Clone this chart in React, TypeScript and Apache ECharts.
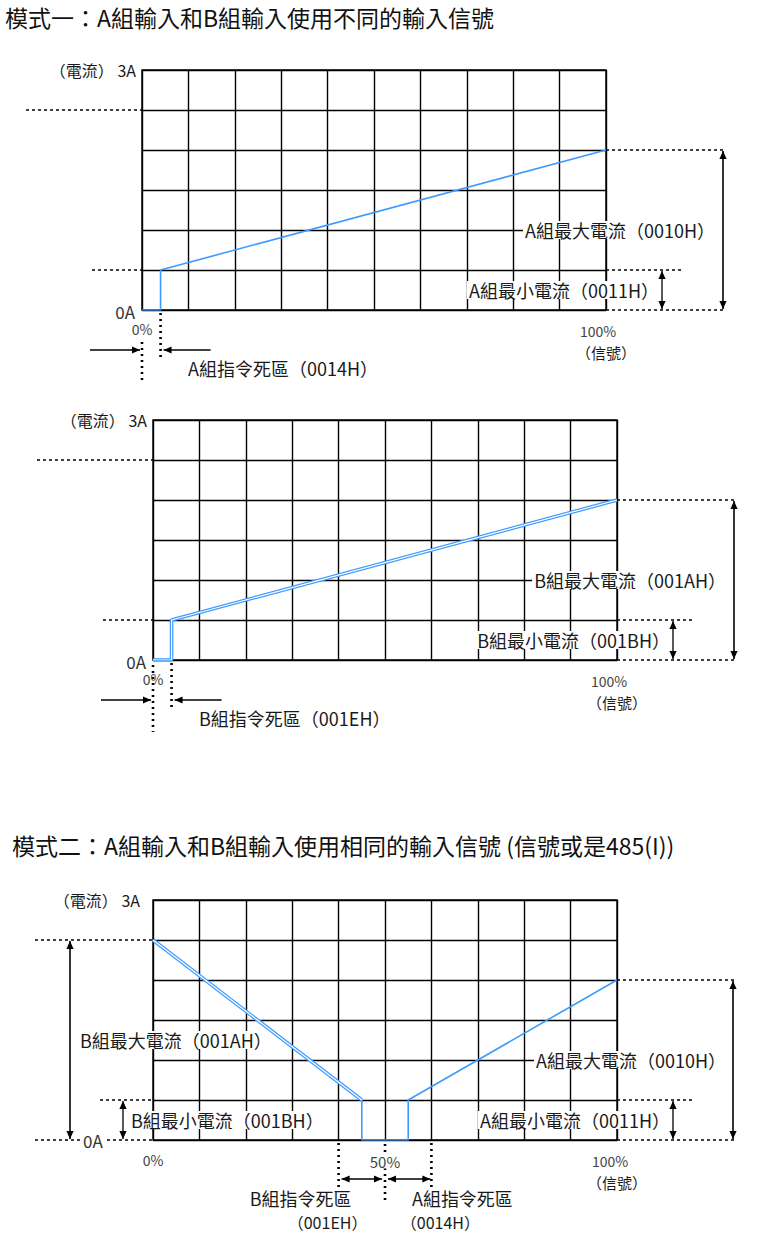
import React, { useEffect, useRef } from "react";
import * as echarts from "echarts";

const W = 760;
const H = 1236;
const FONT = '"Noto Sans CJK TC", "Noto Sans", sans-serif';
const BLUE = "#3d9bff";

// ---------- data ----------
const signalMin = 0;
const signalMax = 100;
const signalStep = 10;
const currentMin = 0;
const currentMax = 3;
const currentStep = 0.5;

// mode 1, group A
const m1aSignal = [0, 4, 4, 100];
const m1aCurrent = [0, 0, 0.5, 2];
// mode 1, group B
const m1bSignal = [0, 4, 4, 100];
const m1bCurrent = [0, 0, 0.5, 2];
// mode 2, group B (falling) and group A (rising)
const m2bSignal = [0, 45, 45, 50];
const m2bCurrent = [2.5, 0.5, 0, 0];
const m2aSignal = [50, 55, 55, 100];
const m2aCurrent = [0, 0, 0.5, 2];
// mode 2 dead-zone markers (signal %)
const m2DeadMarks = [40, 50, 60];

const titles = [
  "模式一：A組輸入和B組輸入使用不同的輸入信號",
  "模式二：A組輸入和B組輸入使用相同的輸入信號 (信號或是485(I))",
];
const m1Labels = [
  ["A組最大電流（0010H）", "A組最小電流（0011H）", "A組指令死區（0014H）"],
  ["B組最大電流（001AH）", "B組最小電流（001BH）", "B組指令死區（001EH）"],
];
const m2Labels = {
  bMax: "B組最大電流（001AH）",
  bMin: "B組最小電流（001BH）",
  aMax: "A組最大電流（0010H）",
  aMin: "A組最小電流（0011H）",
  bDead: "B組指令死區",
  bDeadCode: "（001EH）",
  aDead: "A組指令死區",
  aDeadCode: "（0014H）",
};

const GRID_POS = [
  { left: 142, top: 70 },
  { left: 153, top: 420 },
  { left: 153, top: 900 },
];
const GRID_W = 464;
const GRID_H = 240;

const zip = (xs: number[], ys: number[]) => xs.map((x, i) => [x, ys[i]]);

export default function App() {
  const ref = useRef<HTMLDivElement>(null);
  useEffect(() => {
    document.body.style.margin = "0";
    const chart = echarts.init(ref.current!, null, { renderer: "svg", width: W, height: H });

    const grid = GRID_POS.map((g) => ({
      left: g.left,
      top: g.top,
      width: GRID_W,
      height: GRID_H,
      show: true,
      borderColor: "#000",
      borderWidth: 1.4,
      backgroundColor: "transparent",
    }));
    const axisCommon = {
      type: "value",
      axisLine: { show: false },
      axisTick: { show: false },
      axisLabel: { show: false },
      splitLine: { show: true, lineStyle: { color: "#000", width: 1.4 } },
    };
    const xAxis = GRID_POS.map((_, i) => ({
      ...axisCommon,
      gridIndex: i,
      min: signalMin,
      max: signalMax,
      interval: signalStep,
    }));
    const yAxis = GRID_POS.map((_, i) => ({
      ...axisCommon,
      gridIndex: i,
      min: currentMin,
      max: currentMax,
      interval: currentStep,
    }));

    const single = (g: number, data: number[][]) => ({
      type: "line",
      xAxisIndex: g,
      yAxisIndex: g,
      data,
      symbol: "none",
      z: 5,
      lineStyle: { color: BLUE, width: 1.6 },
    });
    const double = (g: number, data: number[][]) => [
      { ...single(g, data), lineStyle: { color: BLUE, width: 3.6 } },
      { ...single(g, data), z: 6, lineStyle: { color: "#fff", width: 1.2 } },
    ];

    const m2b = zip(m2bSignal, m2bCurrent);
    const series = [
      single(0, zip(m1aSignal, m1aCurrent)),
      ...double(1, zip(m1bSignal, m1bCurrent)),
      ...double(2, m2b.slice(0, 2)),
      single(2, m2b.slice(1)),
      single(2, zip(m2aSignal, m2aCurrent)),
    ];

    chart.setOption({ animation: false, grid, xAxis, yAxis, series });

    const P = (g: number, x: number, y: number) =>
      chart.convertToPixel({ xAxisIndex: g, yAxisIndex: g } as any, [x, y]) as number[];

    const els: any[] = [];
    const line = (x1: number, y1: number, x2: number, y2: number, dash: number[] | null, w = 1.3) =>
      els.push({
        type: "line",
        z: 20,
        shape: { x1, y1, x2, y2 },
        style: { stroke: "#000", lineWidth: w, lineDash: dash || undefined },
      });
    const dashed = (x1: number, y1: number, x2: number, y2: number) => line(x1, y1, x2, y2, [3, 3], 1.3);
    const dotted = (x: number, y1: number, y2: number) => line(x, y1, x, y2, [2, 4], 2.6);
    const head = (tx: number, ty: number, dx: number, dy: number) => {
      const s = 8;
      const w = 3.6;
      const px = -dy;
      const py = dx;
      els.push({
        type: "polygon",
        z: 21,
        shape: {
          points: [
            [tx, ty],
            [tx - dx * s + px * w, ty - dy * s + py * w],
            [tx - dx * s - px * w, ty - dy * s - py * w],
          ],
        },
        style: { fill: "#000" },
      });
    };
    const arrow = (x1: number, y1: number, x2: number, y2: number, both: boolean, w = 1.3) => {
      const len = Math.hypot(x2 - x1, y2 - y1);
      const dx = (x2 - x1) / len;
      const dy = (y2 - y1) / len;
      line(x1, y1, x2, y2, null, w);
      head(x2, y2, dx, dy);
      if (both) head(x1, y1, -dx, -dy);
    };
    const text = (
      x: number,
      y: number,
      t: string,
      size: number,
      align: string,
      opts: any = {}
    ) =>
      els.push({
        type: "text",
        z: opts.z ?? 22,
        x,
        y,
        style: {
          text: t,
          fontFamily: FONT,
          fontSize: size,
          fill: opts.fill || "#1a1a1a",
          align,
          verticalAlign: "middle",
          backgroundColor: opts.bg,
          padding: opts.bg ? [0, 2, 0, 2] : undefined,
        },
      });

    const LS = 18; // label font size
    const boxed = { bg: "#fff", z: 3 };

    // titles
    text(5, 17, titles[0], 23, "left", { fill: "#111" });
    text(12, 845, titles[1], 23, "left", { fill: "#111" });

    // mode 1 charts
    [0, 1].forEach((g) => {
      const sig = g === 0 ? m1aSignal : m1bSignal;
      const cur = g === 0 ? m1aCurrent : m1bCurrent;
      const labels = m1Labels[g];
      const [left, bottom] = P(g, signalMin, currentMin);
      const [right, top] = P(g, signalMax, currentMax);
      const yMin = P(g, 0, cur[2])[1];
      const yMax = P(g, 0, cur[3])[1];
      const yUpper = P(g, 0, 2.5)[1];
      const deadX = P(g, sig[1], 0)[0];

      text(left - 6, top, "（電流） 3A", 16, "right");
      text(left - 7, bottom + 1, "0A", 17, "right", { fill: "#333" });
      dashed(left - 116, yUpper, left, yUpper);
      dashed(left - 50, yMin, left, yMin);

      // right side
      dashed(right, yMax, right + 120, yMax);
      dashed(right, yMin, right + 78, yMin);
      dashed(right, bottom, right + 120, bottom);
      arrow(right + 117, yMax + 1, right + 117, bottom - 1, true, 1.6);
      arrow(right + 56, yMin + 1, right + 56, bottom - 1, true, 1.3);
      text(right + 111, P(g, 0, 1)[1], labels[0], LS, "right", boxed);
      text(right + 55, P(g, 0, 0.25)[1], labels[1], LS, "right", boxed);

      text(left, bottom + 19, "0%", 14, "center", { fill: "#444" });
      text(right - 8, bottom + 21, "100%", 14, "center", { fill: "#444" });
      text(right, bottom + 42, "（信號）", 15, "center");

      // dead zone
      dotted(left, g === 0 ? bottom + 32 : bottom + 5, bottom + 72);
      dotted(deadX, bottom + 3, bottom + 50);
      arrow(left - 52, bottom + 40, left - 2, bottom + 40, false);
      arrow(deadX + 50, bottom + 40, deadX + 3, bottom + 40, false);
      text(left + 46, bottom + 58, labels[2], LS, "left");
    });

    // mode 2 chart
    {
      const g = 2;
      const [left, bottom] = P(g, signalMin, currentMin);
      const [right, top] = P(g, signalMax, currentMax);
      const yBMax = P(g, 0, m2bCurrent[0])[1];
      const yBMin = P(g, 0, m2bCurrent[1])[1];
      const yAMax = P(g, 0, m2aCurrent[3])[1];
      const yAMin = P(g, 0, m2aCurrent[2])[1];

      text(left - 13, top, "（電流） 3A", 16, "right");

      // left side (group B)
      dashed(left - 118, yBMax, left, yBMax);
      dashed(left - 53, yBMin, left, yBMin);
      dashed(left - 118, bottom, left, bottom);
      arrow(left - 83, yBMax + 1, left - 83, bottom - 1, true, 1.6);
      arrow(left - 30, yBMin + 1, left - 30, bottom - 1, true, 1.3);
      text(left - 60, bottom, "0A", 17, "center", { fill: "#333", bg: "#fff" });
      text(left - 75, P(g, 0, 1.25)[1], m2Labels.bMax, LS, "left", boxed);
      text(left - 24, P(g, 0, 0.25)[1], m2Labels.bMin, LS, "left", boxed);

      // right side (group A)
      dashed(right, yAMax, right + 120, yAMax);
      dashed(right, yAMin, right + 78, yAMin);
      dashed(right, bottom, right + 120, bottom);
      arrow(right + 116, yAMax + 1, right + 116, bottom - 1, true, 1.6);
      arrow(right + 56, yAMin + 1, right + 56, bottom - 1, true, 1.3);
      text(right + 111, P(g, 0, 1)[1], m2Labels.aMax, LS, "right", boxed);
      text(right + 55, P(g, 0, 0.25)[1], m2Labels.aMin, LS, "right", boxed);

      // dead zones
      const midX = P(g, m2DeadMarks[1], 0)[0];
      const lx = P(g, m2DeadMarks[0], 0)[0];
      const rx = P(g, m2DeadMarks[2], 0)[0];
      dotted(lx, bottom + 3, bottom + 50);
      dotted(midX, bottom + 4, bottom + 60);
      dotted(rx, bottom + 3, bottom + 50);
      arrow(midX - 3, bottom + 39, lx + 3, bottom + 39, true);
      arrow(midX + 3, bottom + 39, rx - 1, bottom + 39, true);

      text(left, bottom + 20, "0%", 14, "center", { fill: "#444" });
      text(midX, bottom + 21, "50%", 15, "center", { fill: "#444", bg: "#fff" });
      text(right - 7, bottom + 21, "100%", 14, "center", { fill: "#444" });
      text(right, bottom + 42, "（信號）", 15, "center");

      text(lx - 38, bottom + 58, m2Labels.bDead, LS, "center");
      text(lx - 11, bottom + 82, m2Labels.bDeadCode, 16, "center");
      text(rx + 31, bottom + 58, m2Labels.aDead, LS, "center");
      text(rx + 9, bottom + 82, m2Labels.aDeadCode, 16, "center");
    }

    chart.setOption({ graphic: { elements: els } });
    return () => chart.dispose();
  }, []);

  return (
    <div
      ref={ref}
      style={{ position: "absolute", left: 0, top: 0, width: W, height: H, background: "#fff" }}
    />
  );
}
